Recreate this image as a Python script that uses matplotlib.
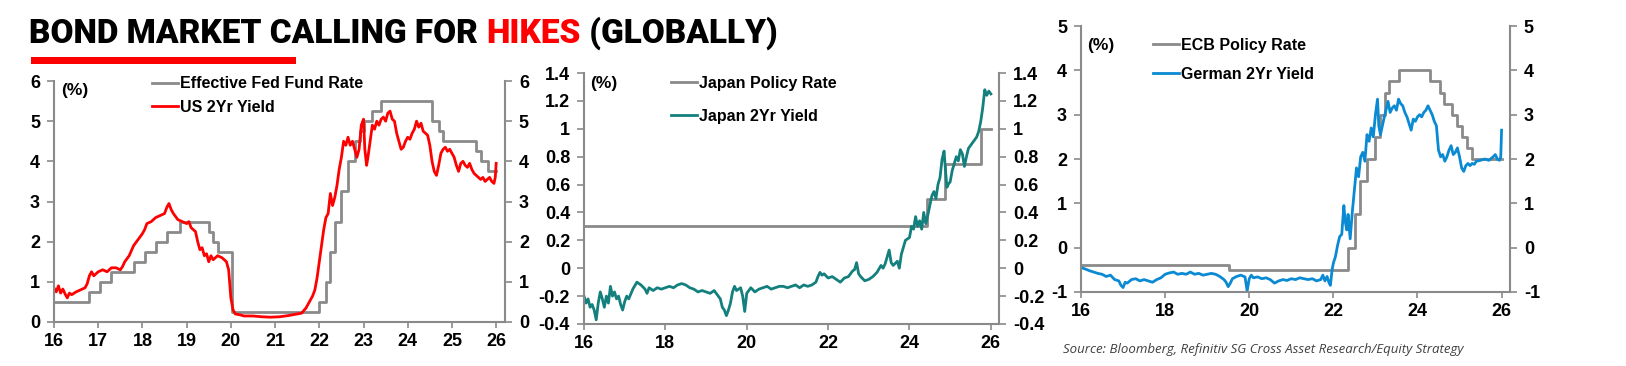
import matplotlib
matplotlib.use("Agg")
import matplotlib.pyplot as plt
from matplotlib.ticker import FuncFormatter

plt.rcParams['font.family'] = ['Liberation Sans Narrow', 'Liberation Sans', 'DejaVu Sans']
plt.rcParams['axes.unicode_minus'] = False

# ---------------- data (decimal years, %) ----------------
# US
fed_t = [16.0, 16.8, 17.05, 17.3, 17.8, 18.05, 18.3, 18.55, 18.85, 19.5, 19.6, 19.7, 20.02,
         22.0, 22.15, 22.25, 22.35, 22.5, 22.65, 22.8, 22.93, 23.0, 23.2, 23.4, 24.55, 24.7,
         24.8, 25.55, 25.65, 25.82, 26.0]
fed_rate = [0.5, 0.75, 1.0, 1.25, 1.5, 1.75, 2.0, 2.25, 2.5, 2.25, 2.0, 1.75, 0.25,
            0.5, 1.0, 1.75, 2.5, 3.25, 4.0, 4.5, 4.75, 5.0, 5.25, 5.5, 5.0, 4.75,
            4.5, 4.25, 4.0, 3.75, 3.75]

us_t = [16.0, 16.05, 16.1, 16.15, 16.2, 16.25, 16.3, 16.35, 16.4, 16.5, 16.6, 16.7, 16.75, 16.8,
        16.85, 16.9, 17.0, 17.1, 17.2, 17.3, 17.4, 17.5, 17.55, 17.6, 17.7, 17.8, 17.9, 18.0,
        18.05, 18.1, 18.2, 18.3, 18.4, 18.5, 18.55, 18.6, 18.65, 18.7, 18.8, 18.9, 19.0, 19.05,
        19.1, 19.2, 19.25, 19.3, 19.35, 19.4, 19.45, 19.5, 19.55, 19.6, 19.7, 19.8, 19.9, 19.95,
        20.0, 20.05, 20.1, 20.2, 20.3, 20.5, 20.7, 20.9, 21.1, 21.3, 21.5, 21.6, 21.7, 21.8,
        21.85, 21.9, 21.95, 22.0, 22.05, 22.1, 22.15, 22.2, 22.25, 22.3, 22.35, 22.4, 22.45,
        22.5, 22.55, 22.6, 22.65, 22.7, 22.75, 22.8, 22.85, 22.9, 22.95, 23.0, 23.03, 23.07,
        23.1, 23.15, 23.2, 23.25, 23.3, 23.35, 23.4, 23.45, 23.5, 23.55, 23.6, 23.65, 23.7,
        23.75, 23.8, 23.85, 23.9, 23.95, 24.0, 24.05, 24.1, 24.15, 24.2, 24.25, 24.3, 24.35,
        24.4, 24.45, 24.5, 24.55, 24.6, 24.65, 24.7, 24.75, 24.8, 24.85, 24.9, 24.95, 25.0,
        25.05, 25.1, 25.15, 25.2, 25.25, 25.3, 25.35, 25.4, 25.45, 25.5, 25.55, 25.6, 25.65,
        25.7, 25.75, 25.8, 25.85, 25.9, 25.95, 25.98, 26.0]
us_2y = [0.85, 0.75, 0.9, 0.72, 0.82, 0.7, 0.6, 0.72, 0.68, 0.75, 0.8, 0.85, 0.95, 1.15,
         1.25, 1.15, 1.25, 1.3, 1.25, 1.35, 1.35, 1.3, 1.38, 1.5, 1.65, 1.9, 2.05, 2.2,
         2.3, 2.45, 2.5, 2.6, 2.65, 2.7, 2.85, 2.95, 2.8, 2.7, 2.55, 2.5, 2.45, 2.5,
         2.35, 2.25, 2.0, 1.8, 1.85, 1.65, 1.7, 1.5, 1.65, 1.55, 1.65, 1.6, 1.5, 1.3,
         0.6, 0.3, 0.2, 0.18, 0.15, 0.15, 0.13, 0.12, 0.13, 0.16, 0.2, 0.22, 0.35, 0.55,
         0.65, 0.8, 1.1, 1.5, 1.9, 2.3, 2.6, 2.7, 3.2, 2.9, 3.1, 3.4, 3.8,
         4.1, 4.5, 4.4, 4.6, 4.4, 4.5, 4.3, 4.1, 4.3, 4.9, 5.05, 4.3, 3.9,
         4.1, 4.5, 4.9, 4.8, 5.0, 4.9, 5.05, 5.1, 5.0, 5.2, 5.25, 5.05, 5.0,
         4.7, 4.5, 4.3, 4.35, 4.5, 4.6, 4.55, 4.7, 4.8, 5.0, 4.85, 4.95, 4.75,
         4.7, 4.65, 4.4, 4.0, 3.75, 3.65, 3.9, 4.2, 4.3, 4.35, 4.25, 4.3, 4.2,
         4.1, 3.9, 3.75, 3.95, 4.0, 3.9, 3.85, 3.95, 3.8, 3.7, 3.65, 3.6, 3.55,
         3.6, 3.5, 3.55, 3.6, 3.5, 3.45, 3.6, 3.95]

# Japan
jp_pol_t = [16.0, 24.42, 24.87, 25.76, 26.0]
jp_pol = [0.3, 0.5, 0.75, 1.0, 1.0]

jp_t = [16.0, 16.05, 16.1, 16.15, 16.2, 16.25, 16.3, 16.35, 16.4, 16.45, 16.5, 16.55, 16.6,
        16.65, 16.7, 16.75, 16.8, 16.85, 16.9, 16.95, 17.0, 17.05, 17.1, 17.2, 17.3, 17.4,
        17.5, 17.55, 17.6, 17.7, 17.8, 17.9, 18.0, 18.1, 18.2, 18.3, 18.4, 18.5, 18.6, 18.7,
        18.8, 18.9, 19.0, 19.1, 19.2, 19.3, 19.35, 19.4, 19.45, 19.5, 19.55, 19.6, 19.65,
        19.7, 19.75, 19.8, 19.85, 19.9, 19.95, 20.0, 20.05, 20.1, 20.2, 20.3, 20.4, 20.5,
        20.6, 20.7, 20.8, 20.9, 21.0, 21.1, 21.2, 21.3, 21.4, 21.5, 21.6, 21.7, 21.75, 21.8,
        21.85, 21.9, 22.0, 22.1, 22.2, 22.3, 22.4, 22.5, 22.55, 22.6, 22.65, 22.7, 22.75,
        22.8, 22.9, 23.0, 23.1, 23.2, 23.3, 23.35, 23.4, 23.5, 23.55, 23.6, 23.7, 23.75,
        23.8, 23.85, 23.9, 24.0, 24.05, 24.1, 24.15, 24.2, 24.25, 24.3, 24.35, 24.4, 24.45,
        24.5, 24.55, 24.6, 24.65, 24.7, 24.75, 24.8, 24.85, 24.88, 24.92, 24.95, 25.0, 25.05,
        25.1, 25.15, 25.2, 25.25, 25.3, 25.35, 25.4, 25.45, 25.5, 25.55, 25.6, 25.65, 25.7,
        25.75, 25.8, 25.85, 25.9, 25.95, 26.0]
jp_2y = [-0.2, -0.25, -0.22, -0.28, -0.26, -0.3, -0.37, -0.25, -0.17, -0.22, -0.28, -0.2, -0.25,
         -0.13, -0.2, -0.17, -0.22, -0.2, -0.26, -0.3, -0.24, -0.2, -0.22, -0.15, -0.1, -0.12,
         -0.15, -0.18, -0.14, -0.16, -0.14, -0.15, -0.14, -0.13, -0.14, -0.12, -0.11, -0.12, -0.14, -0.15,
         -0.17, -0.16, -0.17, -0.18, -0.16, -0.2, -0.22, -0.28, -0.3, -0.34, -0.3, -0.25, -0.17,
         -0.13, -0.16, -0.15, -0.14, -0.2, -0.31, -0.18, -0.16, -0.14, -0.17, -0.15, -0.14, -0.13,
         -0.15, -0.14, -0.13, -0.13, -0.14, -0.13, -0.12, -0.14, -0.12, -0.13, -0.12, -0.1, -0.06, -0.03,
         -0.05, -0.04, -0.07, -0.06, -0.08, -0.1, -0.07, -0.06, -0.04, -0.02, -0.01, 0.04, -0.04,
         -0.06, -0.09, -0.08, -0.06, -0.03, 0.02, 0.0, 0.03, 0.13, 0.04, 0.02, 0.05, 0.0,
         0.1, 0.15, 0.2, 0.22, 0.3, 0.28, 0.37, 0.3, 0.34, 0.28, 0.4, 0.32, 0.38,
         0.45, 0.52, 0.55, 0.5, 0.6, 0.65, 0.78, 0.84, 0.72, 0.58, 0.6, 0.62, 0.7,
         0.75, 0.8, 0.77, 0.85, 0.82, 0.73, 0.8, 0.86, 0.88, 0.9, 0.92, 0.94, 0.98,
         1.05, 1.15, 1.28, 1.24, 1.27, 1.25]

# Euro area
ecb_t = [16.0, 19.53, 22.36, 22.52, 22.64, 22.79, 22.99, 23.11, 23.23, 23.32, 23.55, 24.30,
         24.54, 24.64, 24.81, 24.93, 25.05, 25.17, 25.29, 26.0]
ecb_rate = [-0.4, -0.5, 0.0, 0.75, 1.5, 2.0, 2.5, 3.0, 3.5, 3.75, 4.0, 3.75,
            3.5, 3.25, 3.0, 2.75, 2.5, 2.25, 2.0, 2.0]

de_t = [16.0, 16.1, 16.2, 16.3, 16.4, 16.5, 16.6, 16.7, 16.8, 16.9, 16.95, 17.0, 17.05, 17.1,
        17.2, 17.3, 17.4, 17.5, 17.6, 17.7, 17.8, 17.9, 18.0, 18.1, 18.2, 18.3, 18.4, 18.5,
        18.6, 18.7, 18.8, 18.9, 19.0, 19.1, 19.2, 19.3, 19.4, 19.45, 19.5, 19.55, 19.6, 19.7,
        19.8, 19.9, 19.95, 20.0, 20.05, 20.1, 20.2, 20.3, 20.4, 20.5, 20.6, 20.7, 20.8, 20.9,
        21.0, 21.1, 21.2, 21.3, 21.4, 21.5, 21.6, 21.7, 21.75, 21.8, 21.85, 21.9, 21.93, 21.97,
        22.0, 22.05, 22.1, 22.15, 22.2, 22.25, 22.28, 22.32, 22.35, 22.4, 22.45, 22.5, 22.55,
        22.6, 22.65, 22.7, 22.75, 22.8, 22.85, 22.9, 22.95, 23.0, 23.05, 23.08, 23.12, 23.2,
        23.25, 23.3, 23.35, 23.4, 23.45, 23.5, 23.55, 23.6, 23.65, 23.7, 23.75, 23.8, 23.85,
        23.9, 23.95, 24.0, 24.05, 24.1, 24.15, 24.2, 24.25, 24.3, 24.35, 24.4, 24.45, 24.5,
        24.55, 24.6, 24.65, 24.7, 24.75, 24.8, 24.85, 24.9, 24.95, 25.0, 25.05, 25.1, 25.15,
        25.2, 25.25, 25.3, 25.35, 25.4, 25.5, 25.6, 25.7, 25.8, 25.85, 25.9, 25.95, 25.98, 26.0]
de_2y = [-0.45, -0.48, -0.52, -0.55, -0.58, -0.6, -0.65, -0.62, -0.72, -0.75, -0.85, -0.9, -0.78, -0.8,
         -0.72, -0.7, -0.75, -0.72, -0.75, -0.78, -0.72, -0.68, -0.6, -0.57, -0.55, -0.6, -0.58, -0.6,
         -0.55, -0.6, -0.58, -0.62, -0.6, -0.58, -0.6, -0.65, -0.72, -0.78, -0.88, -0.8, -0.7, -0.65,
         -0.62, -0.66, -0.98, -0.7, -0.62, -0.68, -0.66, -0.7, -0.68, -0.72, -0.8, -0.75, -0.72, -0.74,
         -0.7, -0.72, -0.68, -0.7, -0.72, -0.7, -0.75, -0.72, -0.62, -0.75, -0.65, -0.8, -0.85, -0.5,
         -0.35, -0.2, 0.05, 0.25, 0.3, 0.95, 0.6, 0.4, 0.75, 0.2, 0.8, 1.3, 1.8,
         1.6, 2.05, 2.15, 1.95, 2.55, 2.4, 2.7, 2.5, 3.0, 3.35, 2.75, 2.55, 2.9,
         3.1, 3.3, 3.05, 3.15, 3.2, 3.1, 3.35, 3.25, 3.2, 3.05, 2.95, 2.8, 2.65,
         2.9, 2.85, 2.95, 3.0, 2.95, 3.05, 3.1, 3.2, 3.1, 3.0, 2.85, 2.75, 2.2,
         2.05, 2.1, 1.95, 2.05, 2.2, 2.3, 2.1, 2.15, 2.25, 2.05, 1.8, 1.72, 1.85,
         1.9, 1.85, 1.9, 1.88, 1.95, 1.97, 2.0, 1.97, 2.05, 2.1, 2.0, 1.97, 2.05, 2.65]

# ---------------- styling ----------------
GREY = '#8a8a8a'
W, H = 1626, 366
fig = plt.figure(figsize=(W / 100, H / 100), dpi=100)


def px_axes(left, right, top, bottom):
    return fig.add_axes([left / W, 1 - bottom / H, (right - left) / W, (bottom - top) / H])


def style(ax, ylim, yticks, xticks, pct_y):
    ax.set_xlim(16, 26.2)
    ax.set_ylim(*ylim)
    ax.set_yticks(yticks)
    ax.set_xticks(xticks)
    ax.xaxis.set_major_formatter(FuncFormatter(lambda v, p: '%d' % round(v)))
    ax.yaxis.set_major_formatter(FuncFormatter(lambda v, p: '%g' % round(v, 2)))
    ax.spines['top'].set_visible(False)
    for s in ['left', 'right', 'bottom']:
        ax.spines[s].set_color(GREY)
        ax.spines[s].set_linewidth(1.5)
    ax.tick_params(axis='y', left=True, right=True, labelleft=True, labelright=True,
                   direction='out', length=5, width=1.2, color=GREY, pad=5,
                   labelsize=13)
    ax.tick_params(axis='x', direction='out', length=4, width=1.2, color=GREY, pad=4,
                   labelsize=13)
    for t in ax.yaxis.get_major_ticks() + ax.xaxis.get_major_ticks():
        t.label1.set_fontweight('bold')
        t.label2.set_fontweight('bold')
    ax.text(0.015, pct_y, '(%)', transform=ax.transAxes, ha='left', va='top',
            fontsize=12.5, fontweight='bold')


def legend(ax, x, y, spacing):
    leg = ax.legend(loc='upper left', bbox_to_anchor=(x, y), frameon=False, borderpad=0,
                    borderaxespad=0, handlelength=1.6, handletextpad=0.15,
                    labelspacing=spacing, prop={'size': 11.5, 'weight': 'bold'})
    return leg


# Panel 1: US
ax1 = px_axes(54, 505, 81, 322)
ax1.plot(fed_t, fed_rate, drawstyle='steps-post', color=GREY, lw=2.0, label='Effective Fed Fund Rate')
ax1.plot(us_t, us_2y, color='#ff0000', lw=2.0, label='US 2Yr Yield')
style(ax1, (0, 6), range(0, 7), range(16, 27), 0.99)
legend(ax1, 0.218, 1.02, 0.55)

# Panel 2: Japan
ax2 = px_axes(584, 999, 73, 324)
ax2.plot(jp_pol_t, jp_pol, drawstyle='steps-post', color=GREY, lw=2.0, label='Japan Policy Rate')
ax2.plot(jp_t, jp_2y, color='#13807e', lw=2.0, label='Japan 2Yr Yield')
style(ax2, (-0.4, 1.4), [-0.4, -0.2, 0, 0.2, 0.4, 0.6, 0.8, 1.0, 1.2, 1.4], range(16, 27, 2), 0.99)
legend(ax2, 0.21, 0.99, 1.15)

# Panel 3: Euro area
ax3 = px_axes(1081, 1510, 26, 292)
ax3.plot(ecb_t, ecb_rate, drawstyle='steps-post', color=GREY, lw=2.0, label='ECB Policy Rate')
ax3.plot(de_t, de_2y, color='#0a8ad2', lw=2.0, label='German 2Yr Yield')
style(ax3, (-1, 5), range(-1, 6), range(16, 27, 2), 0.955)
legend(ax3, 0.168, 0.955, 0.85)

# Title, fitted to the reference width
fig.canvas.draw()
renderer = fig.canvas.get_renderer()
parts = [('BOND MARKET CALLING FOR ', 'black'), ('HIKES', '#ff0000'), (' (GLOBALLY)', 'black')]
title_font = dict(family=['Roboto', 'DejaVu Sans'], fontweight='black')
probe = fig.text(0, 0, ''.join(p[0] for p in parts), fontsize=24, **title_font)
full_w = probe.get_window_extent(renderer).width
probe.remove()
fsize = 24 * (778 - 29) / full_w
x0 = 29
for txt, col in parts:
    t = fig.text(x0 / W, 1 - 43 / H, txt, color=col, fontsize=fsize, ha='left', va='baseline',
                 **title_font)
    x0 += t.get_window_extent(renderer).width
fig.add_artist(plt.Rectangle((31 / W, 1 - 64 / H), (296 - 31) / W, 7 / H,
                             transform=fig.transFigure, color='#ff0000', lw=0))

# Source
fig.text(1063 / W, 1 - 350 / H,
         'Source: Bloomberg, Refinitiv SG Cross Asset Research/Equity Strategy',
         fontsize=9.5, style='italic', color='#404040', family=['Open Sans', 'DejaVu Sans'],
         ha='left', va='center')

fig.savefig('out.png', dpi=100)
